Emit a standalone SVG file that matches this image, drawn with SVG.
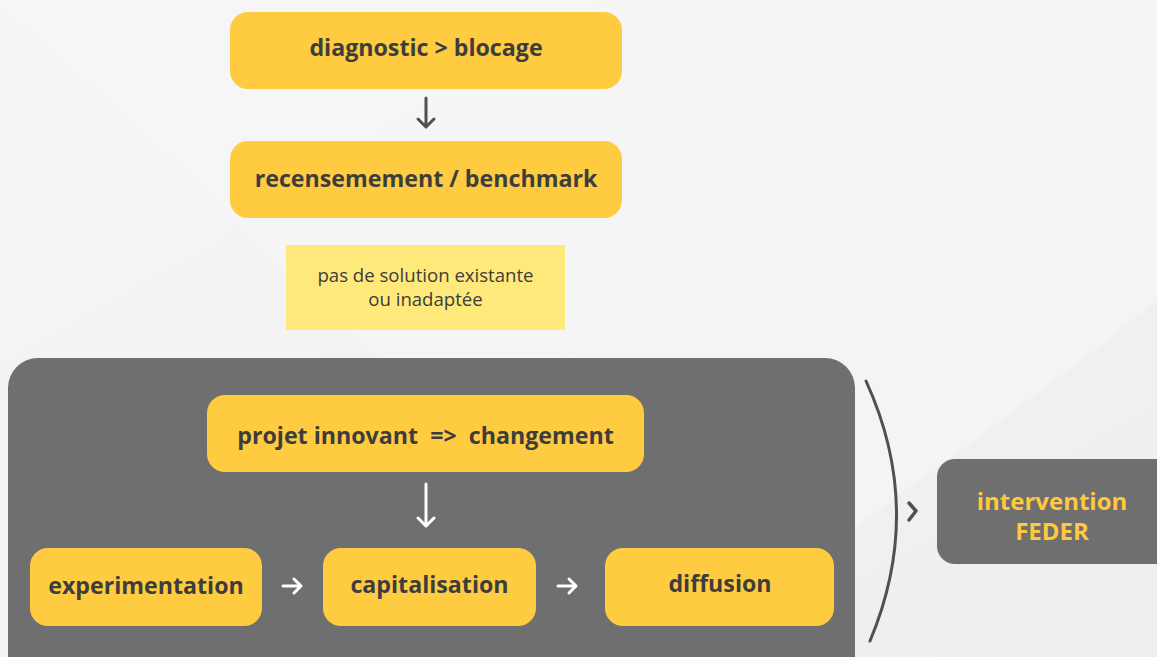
<svg xmlns="http://www.w3.org/2000/svg" width="1157" height="657" viewBox="0 0 1157 657">
<defs>
<style>
.node{fill:#FFCB40}
.lbl{font-family:"Open Sans","Liberation Sans",sans-serif;font-weight:700;font-size:23.2px;fill:#3D3D3D;text-anchor:middle}
.fed{font-family:"Open Sans","Liberation Sans",sans-serif;font-weight:700;font-size:24px;fill:#FFC83D;text-anchor:middle}
.note{font-family:"Open Sans","Liberation Sans",sans-serif;font-size:18.6px;fill:#3D3D3D;text-anchor:middle}
.dk{fill:none;stroke:#505050;stroke-width:3;stroke-linecap:round;stroke-linejoin:round}
.wt{fill:none;stroke:#FFFFFF;stroke-width:3;stroke-linecap:round;stroke-linejoin:round}
</style>
<linearGradient id="bg" x1="0" y1="0" x2="1" y2="1">
<stop offset="0" stop-color="#F6F6F6"/>
<stop offset="1" stop-color="#EEEEF0"/>
</linearGradient>
</defs>
<rect width="1157" height="657" fill="url(#bg)"/>
<path d="M700 657 C850 520 1000 430 1157 300 L1157 0 L0 0 Z" fill="#F7F7F7" opacity="0.5"/>

<g id="container">
<rect x="8" y="358" width="847" height="330" rx="30" fill="#6F6F6F"/>
</g>

<g id="n-diagnostic">
<rect class="node" x="230" y="12" width="392" height="77" rx="18"/>
<text class="lbl" x="426" y="56">diagnostic &gt; blocage</text>
</g>
<g id="n-recensement">
<rect class="node" x="230" y="141" width="392" height="77" rx="18"/>
<text class="lbl" x="426" y="187">recensemement / benchmark</text>
</g>
<g id="n-note">
<rect x="286" y="245" width="279" height="85" fill="#FFE97A"/>
<text class="note" x="425.5" y="282">pas de solution existante</text>
<text class="note" x="425.5" y="306">ou inadaptée</text>
</g>
<g id="n-projet">
<rect class="node" x="207" y="395" width="437" height="77" rx="18"/>
<text class="lbl" x="425.5" y="444" xml:space="preserve">projet innovant  =&gt;  changement</text>
</g>
<g id="n-experimentation">
<rect class="node" x="30" y="548" width="232" height="78" rx="18"/>
<text class="lbl" x="146" y="594">experimentation</text>
</g>
<g id="n-capitalisation">
<rect class="node" x="323" y="548" width="213" height="78" rx="18"/>
<text class="lbl" x="429.5" y="593">capitalisation</text>
</g>
<g id="n-diffusion">
<rect class="node" x="605" y="548" width="229" height="78" rx="18"/>
<text class="lbl" x="720" y="592">diffusion</text>
</g>
<g id="n-feder">
<rect x="937" y="459" width="240" height="105" rx="18" fill="#6F6F6F"/>
<text class="fed" x="1052" y="510">intervention</text>
<text class="fed" x="1052" y="540">FEDER</text>
</g>

<g id="connectors">
<path class="dk" d="M426 98 V127 M418 119 L426 127 L434 119"/>
<path class="wt" d="M426 484 V526 M418 518 L426 526 L434 518"/>
<path class="wt" d="M283 586 H300 M294 579 L301 586 L294 593"/>
<path class="wt" d="M558 586 H575 M569 579 L576 586 L569 593"/>
<path class="dk" d="M866 381 Q925 510 870 641"/>
<path class="dk" style="stroke-width:3.5" d="M909 503 L916 511 L909 520"/>
</g>
</svg>
